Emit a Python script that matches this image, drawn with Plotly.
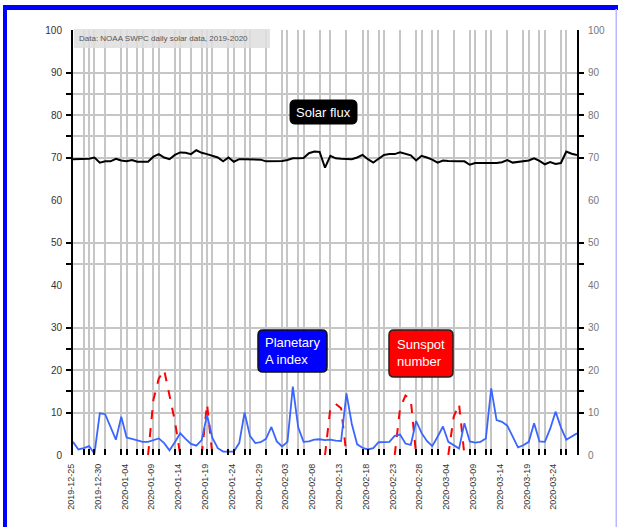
import plotly.graph_objects as go
import pandas as pd

# ---------------- data ----------------
start_date = "2019-12-25"
n_days = 95

solar_flux = [
    69.6, 69.6, 69.6, 69.7, 70.0, 68.8, 69.1, 69.1, 69.7, 69.3,
    69.1, 69.4, 69.0, 69.0, 69.0, 70.2, 70.8, 70.0, 69.6, 70.6,
    71.2, 71.1, 70.8, 71.7, 71.1, 70.8, 70.4, 70.0, 69.1, 70.0,
    69.0, 69.6, 69.6, 69.6, 69.6, 69.5, 69.1, 69.1, 69.1, 69.2,
    69.4, 69.8, 69.8, 69.9, 71.0, 71.4, 71.3, 67.6, 70.4, 69.8,
    69.7, 69.6, 69.6, 70.0, 70.6, 69.6, 68.8, 69.7, 70.6, 70.8,
    70.8, 71.2, 70.9, 70.5, 69.3, 70.4, 70.0, 69.5, 68.8, 69.3,
    69.2, 69.1, 69.1, 69.1, 68.3, 68.7, 68.7, 68.7, 68.7, 68.7,
    68.9, 69.4, 68.8, 69.0, 69.1, 69.3, 69.8, 69.2, 68.4, 68.9,
    68.5, 68.7, 71.4, 70.9, 70.6,
]

a_index = [
    3.1, 1.3, 1.6, 2.1, 0.3, 9.8, 9.6, 6.5, 3.6, 9.0,
    4.1, 3.8, 3.4, 3.1, 3.1, 3.5, 3.9, 2.8, 1.1, 3.0,
    5.1, 3.8, 2.6, 2.2, 3.5, 9.4, 4.0, 1.6, 0.8, 0.8,
    0.8, 2.8, 10.0, 4.5, 2.8, 3.0, 3.8, 6.6, 3.2, 2.0,
    3.1, 16.1, 6.5, 3.1, 3.2, 3.6, 3.7, 3.5, 3.6, 3.4,
    3.3, 14.5, 7.3, 2.5, 1.7, 1.3, 1.6, 3.0, 3.1, 3.1,
    4.5, 4.8, 2.7, 2.4, 8.0, 5.2, 3.3, 2.1, 4.3, 6.7,
    3.1, 2.3, 1.5, 7.5, 3.2, 2.9, 3.1, 3.9, 15.7, 8.2,
    7.8, 6.9, 4.4, 1.8, 2.3, 3.1, 7.5, 3.2, 3.1, 6.2,
    10.2, 6.5, 3.6, 4.3, 5.1,
]

N = None
sunspot = [
    N, N, N, N, N, N, N, N, N, N,
    N, N, N, N, 0, 13, 18, 20, 14, 8,
    0, N, N, N, 0, 12, 0, N, N, N,
    N, N, N, N, N, N, N, N, N, N,
    N, N, N, N, N, N, N, 0, 11, 12,
    11, 0, N, N, N, N, N, N, N, N,
    0, 11, 14, 13, 0, N, N, N, N, N,
    0, 9, 12, 0, N, N, N, N, N, N,
    N, N, N, N, N, N, N, N, N, N,
    N, N, N, N, N,
]

label_every_days = 5
y_label_values = [0, 10, 20, 30, 40, 50, 60, 70, 80, 90, 100]
y_grid_values = [10, 15, 20, 25, 30, 45, 50, 70, 75, 80, 85, 90]
x_grid_days = [2, 3, 4, 6, 9, 10, 12, 13, 15, 16, 19, 20, 22, 24, 25, 26,
               29, 30, 32, 33, 36, 39, 40, 42, 43, 46, 48, 51, 54, 55, 57,
               58, 61, 64, 65, 67, 68, 71, 74, 75, 77, 78, 81, 84, 85, 87,
               88, 91, 92]

source_text = "Data: NOAA SWPC daily solar data, 2019-2020"
label_flux = "Solar flux"
label_a = "Planetary<br>A index"
label_ssn = "Sunspot<br>number"

# ---------------- derived ----------------
dates = pd.date_range(start_date, periods=n_days, freq="D")
label_dates = dates[::label_every_days]
label_text = [d.strftime("%Y-%m-%d") for d in label_dates]
grid_dates = [dates[i] for i in x_grid_days]

# ---------------- layout geometry ----------------
W, H = 618, 527
ML, MR, MT, MB = 73, 41, 30, 72
PW = W - ML - MR
PH = H - MT - MB


def px(x):
    return (x - ML) / PW


def py(y):
    return (H - MB - y) / PH


def rbox(x0, y0, x1, y1, r=5):
    X = lambda v: f"{px(v):.5f}"
    Y = lambda v: f"{py(v):.5f}"
    return (f"M {X(x0 + r)},{Y(y0)} L {X(x1 - r)},{Y(y0)} Q {X(x1)},{Y(y0)} {X(x1)},{Y(y0 + r)} "
            f"L {X(x1)},{Y(y1 - r)} Q {X(x1)},{Y(y1)} {X(x1 - r)},{Y(y1)} "
            f"L {X(x0 + r)},{Y(y1)} Q {X(x0)},{Y(y1)} {X(x0)},{Y(y1 - r)} "
            f"L {X(x0)},{Y(y0 + r)} Q {X(x0)},{Y(y0)} {X(x0 + r)},{Y(y0)} Z")


FONT = "Liberation Sans, Arial, sans-serif"
GRID = "#c6c6c6"

fig = go.Figure()

fig.add_trace(go.Scatter(x=dates, y=solar_flux, mode="lines",
                         line=dict(color="#000000", width=2),
                         xaxis="x", yaxis="y", showlegend=False))
fig.add_trace(go.Scatter(x=dates, y=sunspot, mode="lines",
                         line=dict(color="#ff0000", width=2, dash="dash"),
                         connectgaps=False,
                         xaxis="x", yaxis="y3", showlegend=False))
fig.add_trace(go.Scatter(x=dates, y=a_index, mode="lines",
                         line=dict(color="#3a66ff", width=1.8),
                         xaxis="x2", yaxis="y2", showlegend=False))
fig.add_trace(go.Scatter(x=[dates[0]], y=[None], mode="lines",
                         xaxis="x", yaxis="y4", showlegend=False,
                         hoverinfo="skip"))

xr = [dates[0], dates[-1]]

fig.update_layout(
    width=W, height=H,
    margin=dict(l=ML, r=MR, t=MT, b=MB, autoexpand=False),
    paper_bgcolor="white", plot_bgcolor="white",
    font=dict(family=FONT, size=10, color="#333"),
    xaxis=dict(type="date", range=xr, tickmode="array", tickvals=grid_dates,
               showticklabels=False, ticks="inside", ticklen=6, tickwidth=2,
               tickcolor="#000", showgrid=True, gridcolor=GRID, gridwidth=1.6,
               showline=False, zeroline=False, automargin=False),
    xaxis2=dict(type="date", range=xr, overlaying="x", side="bottom",
                tickmode="array", tickvals=list(label_dates), ticktext=label_text,
                tickangle=-90, ticks="", showgrid=False, showline=False,
                zeroline=False, ticklabelstandoff=6, ticklabelshift=-2,
                automargin=False, tickfont=dict(size=9, color="#333")),
    yaxis=dict(range=[0, 100], tickmode="array", tickvals=y_grid_values,
               showticklabels=False, ticks="outside", ticklen=5, tickwidth=2,
               tickcolor="#000", showgrid=True, gridcolor=GRID, gridwidth=1.6,
               showline=True, linecolor="#000", linewidth=2, zeroline=False,
               automargin=False),
    yaxis2=dict(range=[0, 100], overlaying="y", side="left", tickmode="array",
                tickvals=y_label_values, ticks="", showgrid=False,
                showline=False, zeroline=False, ticklabelstandoff=10,
                automargin=False, tickfont=dict(size=10, color="#333")),
    yaxis3=dict(range=[0, 100], overlaying="y", side="right", tickmode="array",
                tickvals=y_grid_values, showticklabels=False, ticks="outside",
                ticklen=5, tickwidth=2, tickcolor="#000", showgrid=False,
                showline=True, linecolor="#000", linewidth=2, zeroline=False,
                automargin=False),
    yaxis4=dict(range=[0, 100], overlaying="y", side="right", tickmode="array",
                tickvals=y_label_values, ticks="", showgrid=False,
                showline=False, zeroline=False, ticklabelstandoff=10,
                automargin=False, tickfont=dict(size=10, color="#777")),
)

shapes = []
# frame
shapes.append(dict(type="rect", xref="paper", yref="paper",
                   x0=px(3), x1=px(7), y0=py(5), y1=py(H + 5),
                   fillcolor="#0000ff", line=dict(width=0)))
shapes.append(dict(type="rect", xref="paper", yref="paper",
                   x0=px(3), x1=px(W + 5), y0=py(5), y1=py(10),
                   fillcolor="#0000ff", line=dict(width=0)))
shapes.append(dict(type="rect", xref="paper", yref="paper",
                   x0=px(615.5), x1=px(617), y0=py(9), y1=py(H + 5),
                   fillcolor="#b8b8ff", line=dict(width=0)))
# source box
shapes.append(dict(type="rect", xref="paper", yref="paper",
                   x0=px(74), x1=px(270), y0=py(29), y1=py(48),
                   fillcolor="rgba(222,222,222,0.85)", line=dict(width=0)))
# label boxes
shapes.append(dict(type="path", xref="paper", yref="paper",
                   path=rbox(290, 100, 357, 124, 5),
                   fillcolor="#000000", line=dict(color="#000", width=1)))
shapes.append(dict(type="path", xref="paper", yref="paper",
                   path=rbox(258, 330, 327, 372, 5),
                   fillcolor="#0000ff", line=dict(color="#111", width=1.5)))
shapes.append(dict(type="path", xref="paper", yref="paper",
                   path=rbox(389, 330, 453, 377, 5),
                   fillcolor="#ff0000", line=dict(color="#222", width=1.5)))
fig.update_layout(shapes=shapes)

fig.add_annotation(xref="paper", yref="paper", x=px(77), y=py(38.5),
                   xanchor="left", yanchor="middle", showarrow=False,
                   text=source_text, font=dict(size=8, color="#555", family=FONT))
fig.add_annotation(xref="paper", yref="paper", x=px(323.5), y=py(112),
                   xanchor="center", yanchor="middle", showarrow=False,
                   text=label_flux, font=dict(size=13, color="white", family=FONT))
fig.add_annotation(xref="paper", yref="paper", x=px(292.5), y=py(351),
                   xanchor="center", yanchor="middle", showarrow=False,
                   text=label_a, align="left",
                   font=dict(size=13, color="white", family=FONT))
fig.add_annotation(xref="paper", yref="paper", x=px(421), y=py(353),
                   xanchor="center", yanchor="middle", showarrow=False,
                   text=label_ssn, align="left",
                   font=dict(size=13, color="white", family=FONT))

fig.write_html("out.html", config={"displayModeBar": False},
               post_script="document.body.style.margin='0';document.body.style.overflow='hidden';")
